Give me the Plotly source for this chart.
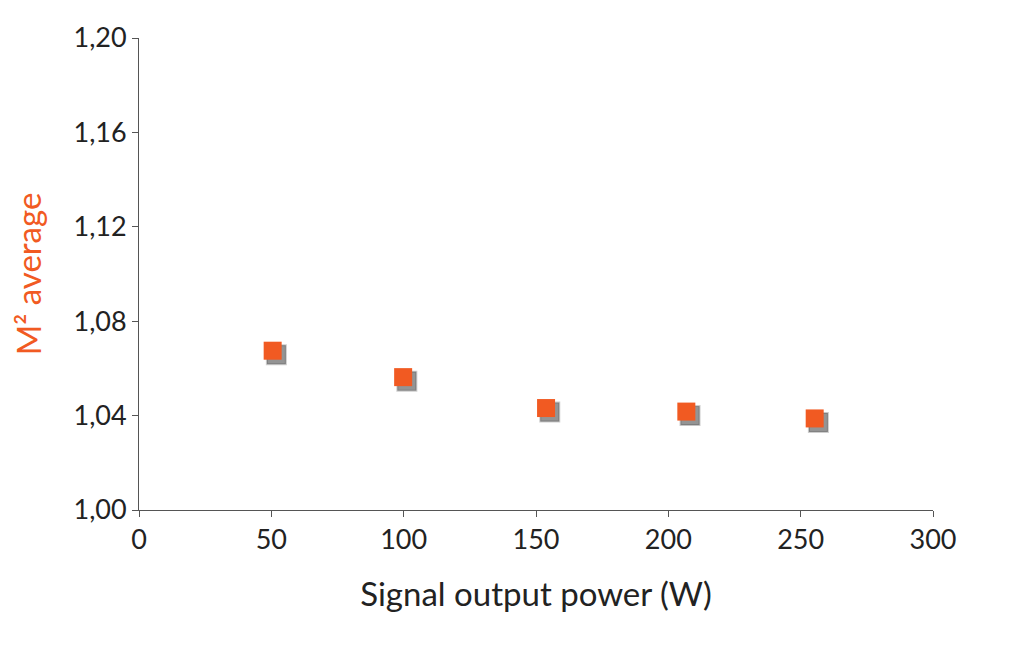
import plotly.graph_objects as go
import numpy as np

power_w = [50.5, 99.8, 153.8, 206.8, 255.3]
m2_avg = [1.0675, 1.0563, 1.0432, 1.0417, 1.0388]

x_ticks = [0, 50, 100, 150, 200, 250, 300]
y_ticks = [1.00, 1.04, 1.08, 1.12, 1.16, 1.20]
y_labels = ["1,00", "1,04", "1,08", "1,12", "1,16", "1,20"]

orange = "#f15a22"

fig = go.Figure()
# soft drop shadow under each marker
fig.add_trace(go.Scatter(
    x=np.array(power_w) + 1.4, y=np.array(m2_avg) - 0.0017,
    mode="markers", hoverinfo="skip",
    marker=dict(symbol="square", size=19, color="rgba(60,60,60,0.55)",
                line=dict(width=2, color="rgba(60,60,60,0.25)")),
))
fig.add_trace(go.Scatter(
    x=power_w, y=m2_avg, mode="markers",
    marker=dict(symbol="square", size=18, color=orange),
))

axis_common = dict(
    showgrid=False, zeroline=False, showline=True, linecolor="#555",
    linewidth=1, ticks="outside", ticklen=6, tickcolor="#555",
    tickfont=dict(size=27, color="#222"),
)
fig.update_xaxes(range=[0, 300], tickvals=x_ticks,
                 title=dict(text="Signal output power (W)",
                            font=dict(size=33, color="#222"), standoff=28),
                 **axis_common)
fig.update_yaxes(range=[1.0, 1.2], tickvals=y_ticks, ticktext=y_labels,
                 title=dict(text="M² average", font=dict(size=33, color=orange),
                            standoff=30),
                 **axis_common)
fig.update_layout(
    width=1018, height=645, showlegend=False,
    font=dict(family="Lato, Open Sans, sans-serif"),
    plot_bgcolor="white", paper_bgcolor="white",
    margin=dict(l=127, r=93, t=22, b=143),
)
fig.write_html("out.html")
